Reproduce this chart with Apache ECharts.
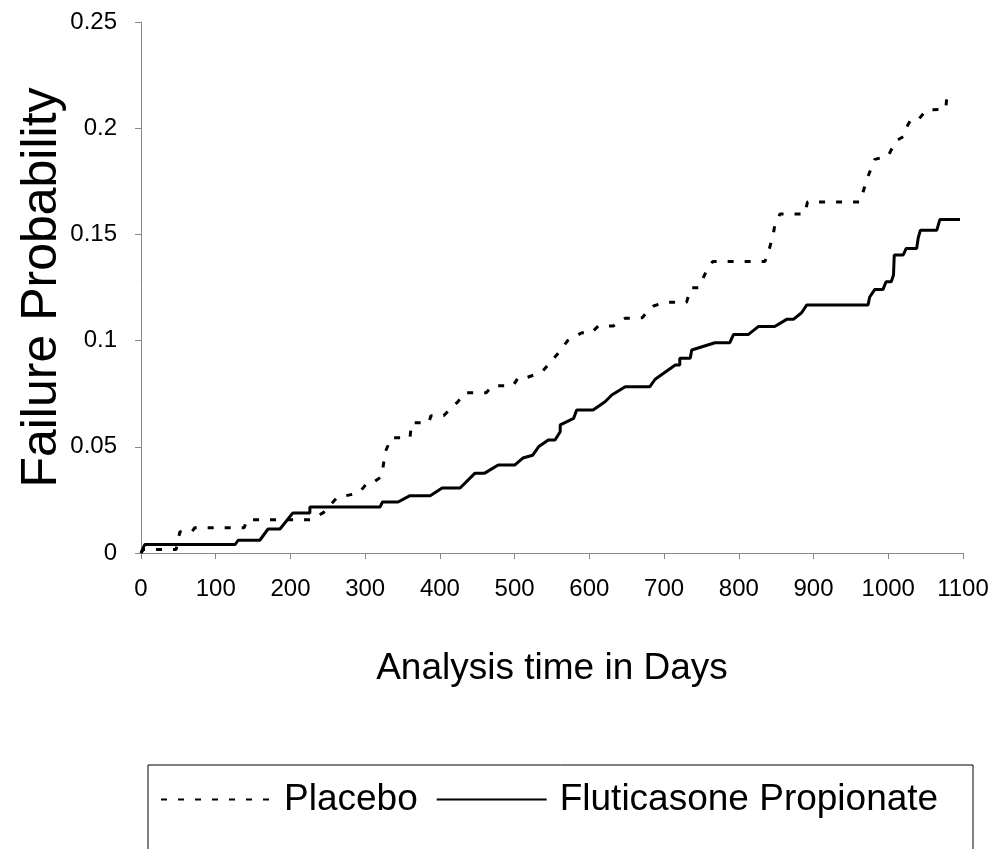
<!DOCTYPE html>
<html>
<head>
<meta charset="utf-8">
<script src="https://cdn.jsdelivr.net/npm/echarts@6/dist/echarts.min.js"></script>
<style>
  html, body { margin: 0; padding: 0; background: #fff; }
  #chart { width: 989px; height: 849px; }
</style>
</head>
<body>
<div id="chart"></div>
<script>
// values (days, failure probability)
var placeboDays = [0, 3, 47, 52, 68, 72, 138, 142, 228, 244, 262, 285, 292, 303, 312, 322, 327, 335, 360, 362, 385,
    388, 405, 417, 424, 433, 462, 471, 498, 505, 517, 530, 538, 551, 560, 571, 580, 590, 603, 612, 632,
    641, 648, 671, 679, 686, 700, 730, 736, 746, 757, 765, 835, 841, 846, 848, 855, 888, 892, 962, 972,
    978, 982, 1000, 1010, 1020, 1023, 1030, 1040, 1051, 1077, 1079];
var placeboProb = [0, 0.0017, 0.0017, 0.01, 0.01, 0.0119, 0.0119, 0.0157, 0.0157, 0.019, 0.026, 0.0278, 0.0285, 0.033, 0.0335, 0.036, 0.0477, 0.0543, 0.0543, 0.0613, 0.0613,
    0.0646, 0.0646, 0.069, 0.0712, 0.0755, 0.0755, 0.0788, 0.0788, 0.0827, 0.0827, 0.0843, 0.0858, 0.091, 0.0948, 0.1, 0.1018, 0.1037, 0.1037, 0.1069, 0.1069,
    0.109, 0.1105, 0.1108, 0.1144, 0.1163, 0.118, 0.118, 0.1249, 0.1249, 0.133, 0.1372, 0.1372, 0.1434, 0.15, 0.154, 0.1596, 0.1596, 0.1653, 0.1653, 0.1764,
    0.182, 0.1853, 0.187, 0.194, 0.196, 0.1995, 0.2039, 0.2039, 0.2086, 0.209, 0.218];

var flutDays = [0, 5, 126, 130, 159, 170, 186, 203, 226, 226, 320, 323, 344, 360, 387, 403, 427, 447, 460, 478, 500,
    511, 524, 532, 545, 554, 561, 561, 579, 583, 605, 621, 630, 648, 681, 688, 715, 721, 721, 735, 737,
    768, 788, 793, 813, 826, 848, 864, 873, 884, 891, 973, 975, 982, 993, 997, 1004, 1007, 1008, 1020, 1024,
    1038, 1040, 1043, 1065, 1069, 1096];
var flutProb = [0, 0.004, 0.004, 0.006, 0.006, 0.0113, 0.0113, 0.0188, 0.0188, 0.0217, 0.0217, 0.024, 0.024, 0.027, 0.027, 0.0306, 0.0306, 0.0376, 0.0376, 0.0414, 0.0414,
    0.0447, 0.046, 0.05, 0.0532, 0.0532, 0.0571, 0.0603, 0.0634, 0.0673, 0.0673, 0.0712, 0.0744, 0.0783, 0.0783, 0.0818, 0.0885, 0.0885, 0.0917, 0.0917, 0.0956,
    0.099, 0.099, 0.1029, 0.1029, 0.1066, 0.1066, 0.11, 0.11, 0.1131, 0.1168, 0.1168, 0.1204, 0.1241, 0.1241, 0.1277, 0.1277, 0.1309, 0.1403, 0.1403, 0.1434,
    0.1434, 0.1482, 0.152, 0.152, 0.157, 0.157];

var seriesNames = ['Placebo', 'Fluticasone Propionate'];

function pairs(xs, ys) {
    return xs.map(function (x, i) { return [x, ys[i]]; });
}

var font = "'Liberation Sans', Arial, sans-serif";
var axisGrey = '#868686';

var myChart = echarts.init(document.getElementById('chart'));

var option = {
    animation: false,
    backgroundColor: '#fff',
    grid: {
        left: 141,
        right: 26,
        top: 22,
        bottom: 296,
        containLabel: false,
        outerBoundsMode: 'none'
    },
    xAxis: {
        type: 'value',
        min: 0,
        max: 1100,
        interval: 100,
        name: 'Analysis time in Days',
        nameLocation: 'middle',
        nameGap: 97,
        nameTextStyle: { fontFamily: font, fontSize: 37, color: '#000' },
        axisLine: { lineStyle: { color: axisGrey, width: 1 } },
        axisTick: { length: 6, lineStyle: { color: axisGrey } },
        axisLabel: {
            margin: 24, fontFamily: font, fontSize: 24, color: '#000',
            formatter: function (v) { return String(v); }
        },
        splitLine: { show: false }
    },
    yAxis: {
        type: 'value',
        min: 0,
        max: 0.25,
        interval: 0.05,
        name: 'Failure Probability',
        nameLocation: 'middle',
        nameGap: 74,
        nameMoveOverlap: false,
        nameRotate: 90,
        nameTextStyle: { fontFamily: font, fontSize: 50, color: '#000' },
        axisLine: { show: true, lineStyle: { color: axisGrey, width: 1 } },
        axisTick: { show: true, length: 6, lineStyle: { color: axisGrey } },
        axisLabel: { margin: 24, fontFamily: font, fontSize: 24, color: '#000' },
        splitLine: { show: false }
    },
    legend: {
        left: 160,
        top: 781,
        padding: 0,
        itemGap: 18,
        itemWidth: 110,
        itemHeight: 14,
        itemStyle: { opacity: 0 },
        textStyle: { fontFamily: font, fontSize: 37, color: '#000', padding: [0, 0, 0, 8] },
        data: seriesNames
    },
    graphic: [{
        type: 'rect',
        shape: { x: 148, y: 765, width: 825, height: 110 },
        style: { fill: 'none', stroke: '#000', lineWidth: 1 },
        silent: true
    }],
    series: [
        {
            name: seriesNames[0],
            type: 'line',
            symbol: 'none',
            showSymbol: false,
            color: '#000',
            lineStyle: { color: '#000', width: 3, type: [6, 11] },
            data: pairs(placeboDays, placeboProb)
        },
        {
            name: seriesNames[1],
            type: 'line',
            symbol: 'none',
            showSymbol: false,
            color: '#000',
            lineStyle: { color: '#000', width: 3, type: 'solid' },
            data: pairs(flutDays, flutProb)
        }
    ]
};

myChart.setOption(option);
</script>
</body>
</html>
